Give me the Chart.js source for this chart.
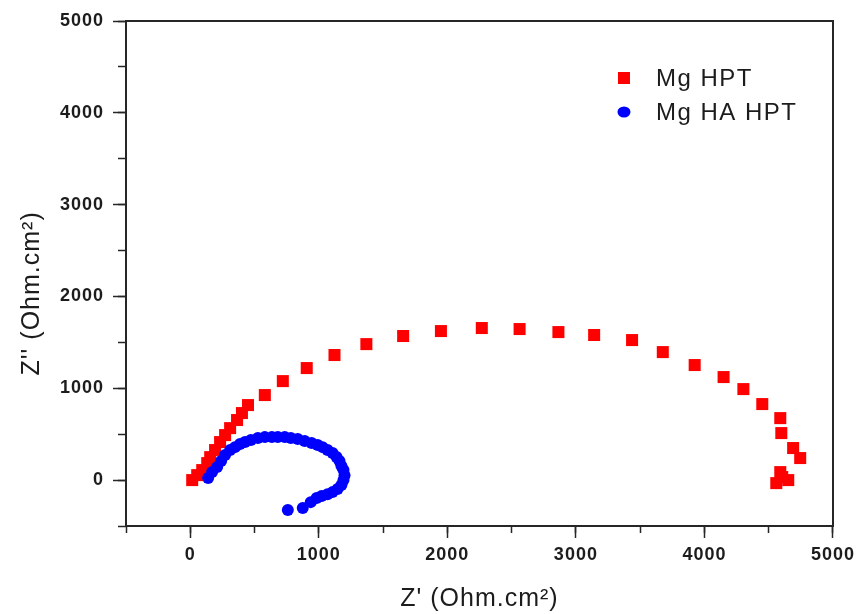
<!DOCTYPE html>
<html><head><meta charset="utf-8">
<script src="https://cdn.jsdelivr.net/npm/chart.js@4/dist/chart.umd.min.js"></script>
<style>html,body{margin:0;padding:0;background:#fff}#wrap{width:861px;height:614px;position:relative}</style>
</head><body><div id="wrap"><canvas id="c"></canvas></div>
<script>
// ---- data ----
const seriesNames = ['Mg HPT', 'Mg HA HPT'];
const hptZre = [15, 54, 93, 132, 155, 193, 232, 271, 310, 364, 402, 449, 580, 720, 906, 1122, 1370, 1656, 1950, 2268, 2562, 2864, 3142, 3437, 3676, 3924, 4149, 4303, 4450, 4590, 4598, 4690, 4745, 4590, 4605, 4652, 4559];
const hptZim = [0, 54, 109, 185, 250, 327, 414, 490, 566, 654, 730, 817, 926, 1078, 1220, 1362, 1481, 1569, 1623, 1656, 1645, 1612, 1580, 1525, 1394, 1253, 1122, 991, 828, 675, 512, 349, 240, 87, 33, 0, -33];
const haZre = [139, 170, 209, 240, 271, 310, 348, 387, 426, 472, 526, 580, 635, 681, 735, 782, 836, 890, 944, 991, 1029, 1068, 1107, 1138, 1161, 1176, 1192, 1200, 1192, 1176, 1146, 1107, 1068, 1022, 983, 937, 875, 759];
const haZim = [22, 87, 142, 207, 272, 327, 359, 392, 414, 436, 458, 468, 468, 468, 468, 458, 447, 425, 403, 381, 359, 327, 294, 251, 207, 153, 109, 54, 0, -54, -98, -131, -153, -174, -196, -240, -305, -327];
const majorTicks = [0, 1000, 2000, 3000, 4000, 5000];
const minorTicks = [-500, 0, 500, 1000, 1500, 2000, 2500, 3000, 3500, 4000, 4500, 5000];
const xTitle = "Z' (Ohm.cm²)";
const yTitle = "Z'' (Ohm.cm²)";
const axisMin = -500, axisMax = 5000;

const toPoints = (xs, ys) => xs.map((x, i) => ({x: x, y: ys[i]}));

const AXIS_COLOR = '#262626';
const TEXT_COLOR = '#1c1c1c';
const FONT = "'Liberation Sans', Arial, sans-serif";

const spacingPlugin = {
  id: 'spacing',
  beforeLayout(chart) { chart.ctx.letterSpacing = '1px'; },
  beforeDraw(chart) { chart.ctx.letterSpacing = '1px'; }
};

const legendPlugin = {
  id: 'insideLegend',
  afterDraw(chart) {
    const ctx = chart.ctx, a = chart.chartArea;
    ctx.save();
    ctx.letterSpacing = '1.5px';
    ctx.font = '24px ' + FONT;
    ctx.textBaseline = 'middle';
    const x0 = a.right - 209, y0 = a.top + 57, gap = 34;
    chart.data.datasets.forEach((ds, i) => {
      const y = y0 + i * gap;
      ctx.fillStyle = ds.backgroundColor;
      if (ds.pointStyle === 'rect') {
        ctx.fillRect(x0 - 6, y - 6, 12, 12);
      } else {
        ctx.beginPath(); ctx.ellipse(x0, y, 6.5, 5.5, 0, 0, Math.PI * 2); ctx.fill();
      }
      ctx.fillStyle = TEXT_COLOR;
      ctx.fillText(ds.label, x0 + 32, y + 1);
    });
    ctx.restore();
  }
};

const useTicks = vals => s => { s.ticks = vals.map(v => ({value: v})); };

const tickFont = {family: FONT, size: 18, weight: 'bold'};

new Chart(document.getElementById('c'), {
  type: 'scatter',
  data: {
    datasets: [
      {label: seriesNames[0], data: toPoints(hptZre, hptZim), pointStyle: 'rect', pointRadius: 8.5,
       backgroundColor: '#ff0000', borderWidth: 0, order: 1},
      {label: seriesNames[1], data: toPoints(haZre, haZim), pointStyle: 'circle', pointRadius: 6,
       backgroundColor: '#0000ff', borderWidth: 0, order: 0}
    ]
  },
  options: {
    responsive: true, maintainAspectRatio: false, animation: false,
    layout: {padding: {top: 21, right: 25, left: 0, bottom: 0}},
    plugins: {legend: {display: false}, tooltip: {enabled: false}},
    elements: {point: {hoverRadius: 8.5}},
    scales: {
      x: {type: 'linear', axis: 'x', position: 'bottom', min: axisMin, max: axisMax, weight: 1,
        ticks: {color: TEXT_COLOR, font: tickFont, padding: 6, maxRotation: 0, autoSkip: false, callback: v => String(v)},
        afterBuildTicks: useTicks(majorTicks),
        grid: {drawOnChartArea: false, tickLength: 12, tickWidth: 1.5, tickColor: AXIS_COLOR},
        border: {display: true, color: AXIS_COLOR, width: 2},
        title: {display: true, text: xTitle, color: TEXT_COLOR, font: {family: FONT, size: 25}, padding: {top: 0, bottom: 0}},
        afterFit: s => { s.height = 88; }
      },
      xMinor: {type: 'linear', axis: 'x', position: 'bottom', min: axisMin, max: axisMax, weight: 0,
        ticks: {display: false, autoSkip: false},
        afterBuildTicks: useTicks(minorTicks),
        grid: {drawOnChartArea: false, tickLength: 7, tickWidth: 1.5, tickColor: AXIS_COLOR},
        border: {display: false},
        afterFit: s => { s.height = 0; }
      },
      xTop: {type: 'linear', axis: 'x', position: 'top', min: axisMin, max: axisMax,
        ticks: {display: false}, grid: {drawOnChartArea: false, drawTicks: false},
        border: {display: true, color: AXIS_COLOR, width: 2},
        afterFit: s => { s.height = 0; }
      },
      y: {type: 'linear', axis: 'y', position: 'left', min: axisMin, max: axisMax, weight: 1,
        ticks: {color: TEXT_COLOR, font: tickFont, padding: 9, autoSkip: false, callback: v => String(v)},
        afterBuildTicks: useTicks(majorTicks),
        grid: {drawOnChartArea: false, tickLength: 13, tickWidth: 1.5, tickColor: AXIS_COLOR},
        border: {display: true, color: AXIS_COLOR, width: 2},
        title: {display: true, text: yTitle + '     ', color: TEXT_COLOR, font: {family: FONT, size: 25}, padding: {top: 17, bottom: 0}},
        afterFit: s => { s.width = 126; }
      },
      yMinor: {type: 'linear', axis: 'y', position: 'left', min: axisMin, max: axisMax, weight: 0,
        ticks: {display: false, autoSkip: false},
        afterBuildTicks: useTicks(minorTicks),
        grid: {drawOnChartArea: false, tickLength: 8, tickWidth: 1.5, tickColor: AXIS_COLOR},
        border: {display: false},
        afterFit: s => { s.width = 0; }
      },
      yRight: {type: 'linear', axis: 'y', position: 'right', min: axisMin, max: axisMax,
        ticks: {display: false}, grid: {drawOnChartArea: false, drawTicks: false},
        border: {display: true, color: AXIS_COLOR, width: 2},
        afterFit: s => { s.width = 0; }
      }
    }
  },
  plugins: [spacingPlugin, legendPlugin]
});
</script>
</body></html>
